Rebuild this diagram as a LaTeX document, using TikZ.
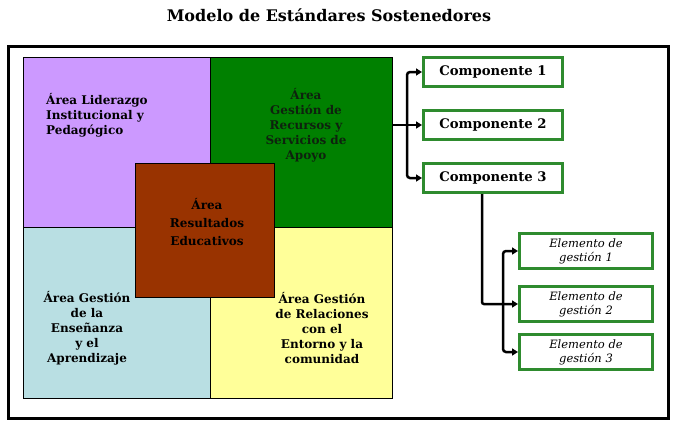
\documentclass[tikz,border=0pt]{standalone}
\usepackage{fontspec}
\setmainfont{DejaVu Serif}
\usepackage{tikz}
\usetikzlibrary{arrows.meta,positioning}
\definecolor{lidpurple}{HTML}{CC99FF}
\definecolor{recgreen}{HTML}{008000}
\definecolor{ensblue}{HTML}{B9DFE3}
\definecolor{relyellow}{HTML}{FFFF99}
\definecolor{resbrown}{HTML}{993300}
\definecolor{boxgreen}{HTML}{2E8B2E}
\definecolor{darktext}{HTML}{0E220E}
\tikzset{
  area/.style={draw, line width=1pt, inner sep=0pt},
  areatext/.style={font=\bfseries\fontsize{12}{15}\selectfont, align=center, inner sep=0pt},
  compbox/.style={draw=boxgreen, line width=3pt, fill=white,
    minimum width=139pt, minimum height=29pt, inner sep=0pt,
    font=\bfseries\fontsize{13.2}{14}\selectfont},
  elembox/.style={draw=boxgreen, line width=3pt, fill=white,
    minimum width=133pt, minimum height=35pt, inner sep=0pt, align=center,
    font=\itshape\fontsize{11.5}{14}\selectfont},
  arr/.style={-{Triangle[length=6pt,width=7pt]}, line width=2.5pt},
}
\begin{document}
\begin{tikzpicture}[x=1pt, y=-1pt]
  \useasboundingbox (0,0) rectangle (683,434);

  % Title
  \node[font=\bfseries\fontsize{16}{18}\selectfont] (title) at (329,15)
    {Modelo de Estándares Sostenedores};

  % Frame
  \draw[line width=3pt] (8,46) rectangle (668,418);

  % Four areas
  \node[area, fill=lidpurple, minimum width=187pt, minimum height=170pt,
        anchor=north west] (lid) at (23,57) {};
  \node[area, fill=recgreen, minimum width=182pt, minimum height=170pt,
        anchor=north west] (rec) at (210,57) {};
  \node[area, fill=ensblue, minimum width=187pt, minimum height=171pt,
        anchor=north west] (ens) at (23,227) {};
  \node[area, fill=relyellow, minimum width=182pt, minimum height=171pt,
        anchor=north west] (rel) at (210,227) {};
  \node[area, fill=resbrown, minimum width=139pt, minimum height=134pt,
        anchor=north west] (res) at (135,163) {};

  % Area labels
  \node[areatext, align=left, anchor=west] (lidtext) at (46,115)
    {Área Liderazgo\\Institucional y\\Pedagógico};
  \node[areatext, text=darktext] (rectext) at (306,125)
    {Área\\Gestión de\\Recursos y\\Servicios de\\Apoyo};
  \node[areatext, font=\bfseries\fontsize{12}{18}\selectfont] (restext) at (207,222)
    {Área\\Resultados\\Educativos};
  \node[areatext] (enstext) at (87,328)
    {Área Gestión\\de la\\Enseñanza\\y el\\Aprendizaje};
  \node[areatext] (reltext) at (322,328)
    {Área Gestión\\de Relaciones\\con el\\Entorno y la\\comunidad};

  % Components
  \node[compbox] (comp1) at (493,72) {Componente 1};
  \node[compbox, below=21pt of comp1] (comp2) {Componente 2};
  \node[compbox, below=21pt of comp2] (comp3) {Componente 3};

  % Management elements
  \node[elembox] (elem1) at (586,251) {Elemento de\\gestión 1};
  \node[elembox, below=15pt of elem1] (elem2) {Elemento de\\gestión 2};
  \node[elembox, below=10pt of elem2] (elem3) {Elemento de\\gestión 3};

  % Connectors
  \coordinate (busa) at (407,0);
  \coordinate (busb) at (503,0);
  \draw[arr] (rec.east |- comp2.west) -- (comp2.west);
  \draw[arr, rounded corners=3pt] (busa |- comp2.west) |- (comp1.west);
  \draw[arr, rounded corners=3pt] (busa |- comp2.west) |- (comp3.west);
  \draw[arr, rounded corners=2pt] ([xshift=-11pt]comp3.south) |- (elem2.west);
  \draw[arr, rounded corners=3pt] (busb |- elem2.west) |- (elem1.west);
  \draw[arr, rounded corners=3pt] (busb |- elem2.west) |- (elem3.west);
\end{tikzpicture}
\end{document}
